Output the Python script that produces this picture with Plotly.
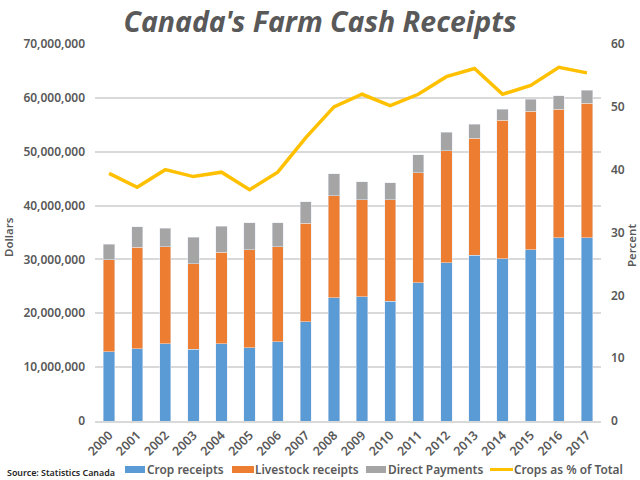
import plotly.graph_objects as go

years = [str(y) for y in range(2000, 2018)]

# dollars
crop_receipts = [12.9e6, 13.4e6, 14.3e6, 13.3e6, 14.3e6, 13.6e6, 14.7e6, 18.4e6, 22.9e6,
                 23.1e6, 22.2e6, 25.7e6, 29.4e6, 30.8e6, 30.1e6, 31.8e6, 34.0e6, 34.0e6]
livestock_receipts = [17.0e6, 18.9e6, 18.1e6, 15.9e6, 17.0e6, 18.2e6, 17.7e6, 18.3e6, 18.9e6,
                      18.0e6, 18.9e6, 20.4e6, 20.8e6, 21.7e6, 25.7e6, 25.7e6, 23.9e6, 25.0e6]
direct_payments = [2.9e6, 3.8e6, 3.4e6, 4.9e6, 4.9e6, 5.0e6, 4.45e6, 4.0e6, 4.1e6,
                   3.3e6, 3.15e6, 3.35e6, 3.4e6, 2.6e6, 2.1e6, 2.2e6, 2.5e6, 2.4e6]
crops_pct = [39.4, 37.2, 40.0, 38.9, 39.6, 36.8, 39.6, 45.1, 50.0,
             52.0, 50.2, 52.0, 54.8, 56.1, 52.0, 53.4, 56.3, 55.4]

left_ticks = [0, 10e6, 20e6, 30e6, 40e6, 50e6, 60e6, 70e6]
left_labels = ["0", "10,000,000", "20,000,000", "30,000,000", "40,000,000",
               "50,000,000", "60,000,000", "70,000,000"]
right_ticks = [0, 10, 20, 30, 40, 50, 60]

TEXT = "#595959"
FONT = "Noto Sans"
W, H = 640, 480
L, R, T, B = 95, 39, 44, 59


def paper_x(x):
    return (x - L) / (W - L - R)


def paper_y(y):
    return (H - B - y) / (H - T - B)


tick_font = dict(family=FONT, size=12, color=TEXT, weight=600)

fig = go.Figure()
fig.add_trace(go.Bar(x=years, y=crop_receipts, name="Crop receipts", marker_color="#5B9BD5"))
fig.add_trace(go.Bar(x=years, y=livestock_receipts, name="Livestock receipts", marker_color="#ED7D31"))
fig.add_trace(go.Bar(x=years, y=direct_payments, name="Direct Payments", marker_color="#A5A5A5"))
fig.add_trace(go.Scatter(x=years, y=crops_pct, name="Crops as % of Total", mode="lines", yaxis="y2",
                         line=dict(color="#FFC000", width=3.5)))

fig.update_layout(
    width=W,
    height=H,
    autosize=False,
    barmode="stack",
    bargap=0.6,
    showlegend=False,
    paper_bgcolor="white",
    plot_bgcolor="white",
    margin=dict(l=L, r=R, t=T, b=B, pad=0),
    font=dict(family=FONT, size=12, color=TEXT),
    title=dict(text="<b><i>Canada's Farm Cash Receipts</i></b>", x=0.5, xanchor="center", y=1 - 22 / H,
               yanchor="middle", font=dict(family=FONT, size=28.5, color=TEXT)),
    xaxis=dict(tickangle=-45, showgrid=False, showline=True, linecolor="#D9D9D9", linewidth=2,
               tickfont=dict(family=FONT, size=12.5, color=TEXT, weight=600), ticks=""),
    yaxis=dict(range=[0, 70e6], tickvals=left_ticks, ticktext=left_labels, gridcolor="#D9D9D9", gridwidth=1.5,
               zeroline=False, tickfont=tick_font, ticks="", ticklabelstandoff=9),
    yaxis2=dict(range=[0, 60], tickvals=right_ticks, overlaying="y", side="right", showgrid=False, zeroline=False,
                tickfont=tick_font, ticks="", ticklabelstandoff=9),
)

# legend is laid out by hand, the built-in one can't fit this tight on one row
legend_entries = [
    ("Crop receipts", "#5B9BD5", 125, 145, 145),
    ("Livestock receipts", "#ED7D31", 232, 254, 253),
    ("Direct Payments", "#A5A5A5", 366, 386, 386),
    ("Crops as % of Total", "#FFC000", 490, 513, 512),
]
for name, color, x0, x1, tx in legend_entries:
    half = 1.5 if name.startswith("Crops") else 3.5
    fig.add_shape(type="rect", xref="paper", yref="paper", x0=paper_x(x0), x1=paper_x(x1),
                  y0=paper_y(469.5 + half), y1=paper_y(469.5 - half), fillcolor=color, line_width=0)
    fig.add_annotation(text=name, x=paper_x(tx), y=paper_y(469), xref="paper", yref="paper",
                       xanchor="left", yanchor="middle", showarrow=False,
                       font=dict(family=FONT, size=11.9, color=TEXT, weight=600))

fig.add_annotation(text="Source: Statistics Canada", x=paper_x(5), y=paper_y(472), xref="paper", yref="paper",
                   xanchor="left", yanchor="middle", showarrow=False,
                   font=dict(family=FONT, size=8.9, color="#262626", weight=600))
fig.add_annotation(text="Dollars", x=paper_x(8), y=paper_y(237), xref="paper", yref="paper", xanchor="center",
                   yanchor="middle", textangle=-90, showarrow=False,
                   font=dict(family=FONT, size=11.5, color=TEXT, weight=600))
fig.add_annotation(text="Percent", x=paper_x(632), y=paper_y(246), xref="paper", yref="paper", xanchor="center",
                   yanchor="middle", textangle=-90, showarrow=False,
                   font=dict(family=FONT, size=11.5, color=TEXT, weight=600))

fig.write_html("out.html", config=dict(displayModeBar=False), post_script="document.body.style.margin='0';")
